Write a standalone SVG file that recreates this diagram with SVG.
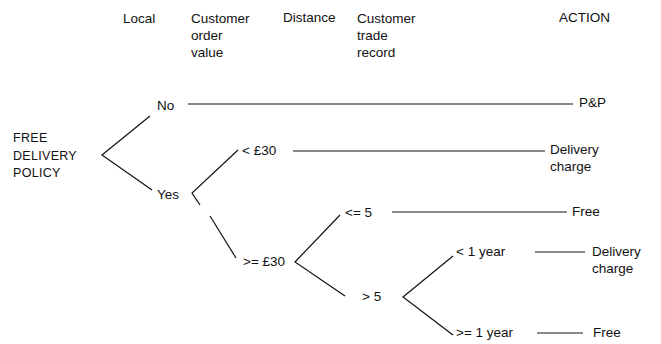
<svg xmlns="http://www.w3.org/2000/svg" width="661" height="344" viewBox="0 0 661 344">
  <style>
    text { font-family: "Liberation Sans", Arial, sans-serif; font-size: 13.5px; fill: #111; }
    .caps { font-size: 12.5px; letter-spacing: 0.3px; }
    .edge { stroke: #111; stroke-width: 1.2; fill: none; }
  </style>
  <rect width="661" height="344" fill="#fff"/>

  <!-- column headings -->
  <g id="headings">
    <text x="123" y="23">Local</text>
    <text x="191" y="23">Customer</text>
    <text x="191" y="40">order</text>
    <text x="191" y="57">value</text>
    <text x="283" y="22">Distance</text>
    <text x="357" y="23">Customer</text>
    <text x="357" y="40">trade</text>
    <text x="357" y="57">record</text>
    <text x="559" y="22">ACTION</text>
  </g>

  <!-- connectors -->
  <g id="connectors" class="edge">
    <polyline points="150,116 102,155 152,190"/>
    <line x1="188" y1="104" x2="573" y2="104"/>
    <polyline points="238,150 192,193 200,205"/>
    <line x1="210" y1="216" x2="236" y2="258"/>
    <line x1="293" y1="151" x2="545" y2="151"/>
    <polyline points="340,215 295,262 345,296"/>
    <line x1="392" y1="212" x2="567" y2="212"/>
    <polyline points="453,256 403,297 453,335"/>
    <line x1="535" y1="252" x2="585" y2="252"/>
    <line x1="537" y1="333" x2="583" y2="333"/>
  </g>

  <g id="root" class="caps"><text class="caps" x="13" y="142">FREE</text><text class="caps" x="13" y="160">DELIVERY</text><text class="caps" x="13" y="177">POLICY</text></g>
  <g id="local-no"><text x="157" y="110">No</text></g>
  <g id="local-yes"><text x="157" y="199">Yes</text></g>
  <g id="value-low"><text x="242" y="155">&lt; £30</text></g>
  <g id="value-high"><text x="243" y="266">&gt;= £30</text></g>
  <g id="dist-near"><text x="345" y="217">&lt;= 5</text></g>
  <g id="dist-far"><text x="362" y="301">&gt; 5</text></g>
  <g id="trade-new"><text x="456" y="256">&lt; 1 year</text></g>
  <g id="trade-old"><text x="456" y="337">&gt;= 1 year</text></g>
  <g id="action-pp"><text x="579" y="107">P&amp;P</text></g>
  <g id="action-charge-1"><text x="550" y="154">Delivery</text><text x="550" y="171">charge</text></g>
  <g id="action-free-1"><text x="572" y="216">Free</text></g>
  <g id="action-charge-2"><text x="592" y="256">Delivery</text><text x="592" y="273">charge</text></g>
  <g id="action-free-2"><text x="593" y="337">Free</text></g>
</svg>
